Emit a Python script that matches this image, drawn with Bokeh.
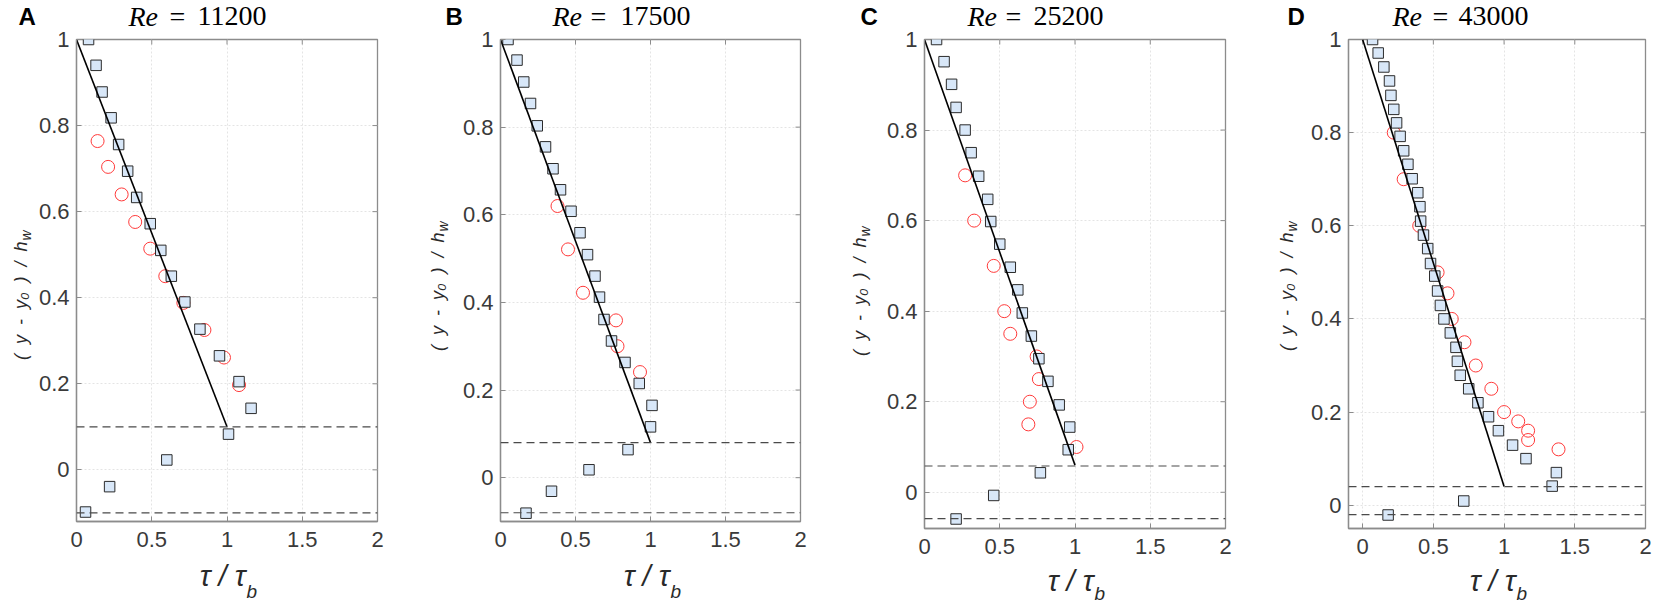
import math
from bokeh.plotting import figure
from bokeh.models import Span, FixedTicker, NumeralTickFormatter, Range1d, GridBox
from bokeh.embed import file_html
from bokeh.resources import INLINE
from bokeh.core.properties import value

# ---------------- data ----------------
panel_letters = ["A", "B", "C", "D"]
re_values = ["11200", "17500", "25200", "43000"]
x_ticks = [0, 0.5, 1, 1.5, 2]
y_ticks = [0, 0.2, 0.4, 0.6, 0.8, 1]
x_label_main = "\u03c4 / \u03c4"
x_label_sub = "b"
_sp = " \u00a0"
y_label_main = "(" + _sp + "y" + _sp + "-" + _sp + "y\u2080" + _sp + ")" + _sp + "/" + _sp + "h"
y_label_sub = "w"

# Panel A (Re = 11200)
a_sq_x = [0.08, 0.13, 0.17, 0.23, 0.28, 0.34, 0.40, 0.49, 0.56, 0.63, 0.72, 0.82, 0.95, 1.08, 1.16, 1.01, 0.60, 0.22, 0.06]
a_sq_y = [1.00, 0.94, 0.878, 0.818, 0.756, 0.694, 0.633, 0.572, 0.51, 0.45, 0.39, 0.327, 0.265, 0.205, 0.143, 0.083, 0.023, -0.039, -0.098]
a_ci_x = [0.14, 0.21, 0.30, 0.39, 0.49, 0.59, 0.71, 0.85, 0.98, 1.08]
a_ci_y = [0.764, 0.704, 0.64, 0.576, 0.514, 0.45, 0.388, 0.325, 0.261, 0.197]
a_fit_x = [0, 1]
a_fit_y = [1, 0.1]
a_dash = [0.1, -0.1]
a_xrange = [0, 2]
a_yrange = [-0.12, 1]

# Panel B (Re = 17500)
b_sq_x = [0.05, 0.11, 0.155, 0.20, 0.245, 0.30, 0.35, 0.40, 0.47, 0.53, 0.58, 0.63, 0.66, 0.69, 0.74, 0.83, 0.925, 1.01, 1.00, 0.85, 0.59, 0.34, 0.17]
b_sq_y = [1.0, 0.953, 0.903, 0.854, 0.803, 0.755, 0.705, 0.657, 0.608, 0.559, 0.509, 0.46, 0.412, 0.361, 0.312, 0.263, 0.215, 0.165, 0.116, 0.064, 0.018, -0.031, -0.081]
b_ci_x = [0.38, 0.45, 0.55, 0.77, 0.78, 0.93]
b_ci_y = [0.62, 0.521, 0.422, 0.359, 0.30, 0.241]
b_fit_x = [0, 1]
b_fit_y = [1, 0.08]
b_dash = [0.08, -0.08]
b_xrange = [0, 2]
b_yrange = [-0.1, 1]

# Panel C (Re = 25200)
c_sq_x = [0.08, 0.13, 0.18, 0.21, 0.27, 0.31, 0.36, 0.42, 0.44, 0.50, 0.57, 0.62, 0.65, 0.71, 0.76, 0.82, 0.895, 0.965, 0.955, 0.77, 0.46, 0.21]
c_sq_y = [1.0, 0.951, 0.901, 0.85, 0.80, 0.75, 0.698, 0.647, 0.598, 0.548, 0.497, 0.447, 0.396, 0.345, 0.295, 0.245, 0.193, 0.144, 0.094, 0.043, -0.007, -0.059]
c_ci_x = [0.27, 0.33, 0.46, 0.53, 0.57, 0.745, 0.76, 0.70, 0.69, 1.01]
c_ci_y = [0.70, 0.60, 0.50, 0.40, 0.35, 0.30, 0.25, 0.20, 0.15, 0.10]
c_fit_x = [0, 1]
c_fit_y = [1, 0.06]
c_dash = [0.058, -0.058]
c_xrange = [0, 2]
c_yrange = [-0.08, 1]

# Panel D (Re = 43000)
d_sq_x = [0.07, 0.11, 0.15, 0.19, 0.20, 0.22, 0.24, 0.265, 0.29, 0.32, 0.35, 0.39, 0.405, 0.41, 0.43, 0.46, 0.48, 0.51, 0.53, 0.55, 0.575, 0.62, 0.66, 0.67, 0.69, 0.75, 0.815, 0.89, 0.96, 1.06, 1.155, 1.37, 1.34, 0.715, 0.18]
d_sq_y = [1.0, 0.971, 0.941, 0.911, 0.88, 0.85, 0.821, 0.792, 0.761, 0.732, 0.701, 0.671, 0.641, 0.61, 0.58, 0.551, 0.519, 0.492, 0.46, 0.429, 0.40, 0.37, 0.339, 0.309, 0.279, 0.25, 0.22, 0.19, 0.16, 0.129, 0.10, 0.07, 0.041, 0.009, -0.021]
d_ci_x = [0.22, 0.29, 0.40, 0.53, 0.60, 0.63, 0.72, 0.80, 0.91, 1.00, 1.10, 1.17, 1.17, 1.385]
d_ci_y = [0.80, 0.70, 0.60, 0.50, 0.455, 0.40, 0.35, 0.30, 0.25, 0.20, 0.18, 0.16, 0.14, 0.12]
d_fit_x = [0, 1]
d_fit_y = [1, 0.04]
d_dash = [0.04, -0.02]
d_xrange = [-0.1, 2]
d_yrange = [-0.05, 1]

# ---------------- layout / style ----------------
FRAME = "#8c8c8c"
TICKTXT = "#3a3a3a"
LABTXT = "#2a2a2a"
SANS = "Liberation Sans"
SERIF = "Liberation Serif"
PAGE_W = 1653
PAGE_H = 604
FRAME_TOP = 39

# all positions in page pixels (x from left, y from top); *_c are text centre lines
layouts = [
    dict(col0=0, colw=420, fl=76, fw=301, fh=482,
         letter=18, re=128, eq=169, num=197,
         ylx_c=20, ylp=241, xlj=245, xl_c=575, xlsub_c=591),
    dict(col0=420, colw=426, fl=500, fw=300, fh=482,
         letter=445, re=552, eq=590, num=620,
         ylx_c=437, ylp=232, xlj=669, xl_c=575, xlsub_c=591),
    dict(col0=846, colw=424, fl=924, fw=301, fh=489,
         letter=860, re=967, eq=1005, num=1033,
         ylx_c=859, ylp=237, xlj=1093, xl_c=580, xlsub_c=593),
    dict(col0=1270, colw=383, fl=1348, fw=297, fh=489,
         letter=1287, re=1392, eq=1432, num=1458,
         ylx_c=1286, ylp=232, xlj=1515, xl_c=580, xlsub_c=593),
]


def no_frame_align(f):
    try:
        f.frame_align = False
    except Exception:
        pass


def style_axis(ax, ticks, standoff):
    ax.ticker = FixedTicker(ticks=ticks)
    ax.formatter = NumeralTickFormatter(format="0.[0]")
    ax.axis_line_color = FRAME
    ax.axis_line_width = 1.3
    ax.major_tick_line_color = FRAME
    ax.major_tick_line_width = 1
    ax.major_tick_in = 5
    ax.major_tick_out = 0
    ax.minor_tick_line_color = None
    ax.major_label_standoff = standoff
    ax.major_label_text_font = SANS
    ax.major_label_text_font_size = "22px"
    ax.major_label_text_color = TICKTXT


def put_text(f, x, y, txt, size, font, style="normal", align="left", angle=0.0, color="black"):
    f.text(x=[x], y=[PAGE_H - y], text=[txt], text_font=value(font), text_font_size=size,
           text_font_style=style, text_align=align, text_baseline="middle",
           angle=angle, text_color=color)


def make_panel(idx, sq_x, sq_y, ci_x, ci_y, fit_x, fit_y, dash, xr, yr):
    L = layouts[idx]
    bl = L["fl"] - L["col0"]
    br = L["colw"] - bl - L["fw"]
    bb = PAGE_H - FRAME_TOP - L["fh"]
    p = figure(width=L["colw"], height=PAGE_H,
               x_range=Range1d(xr[0], xr[1]), y_range=Range1d(yr[0], yr[1]),
               output_backend="svg", toolbar_location=None,
               min_border_left=bl, min_border_right=br,
               min_border_top=FRAME_TOP, min_border_bottom=bb,
               outline_line_color=FRAME, outline_line_width=1.3,
               background_fill_color="white", border_fill_color="white")
    no_frame_align(p)
    style_axis(p.xaxis[0], x_ticks, 10)
    style_axis(p.yaxis[0], y_ticks, 7)

    p.xgrid.ticker = FixedTicker(ticks=x_ticks)
    p.ygrid.ticker = FixedTicker(ticks=y_ticks)
    p.grid.grid_line_color = "#e4e4e4"
    p.grid.grid_line_dash = "2 2"
    p.grid.grid_line_width = 1

    # mirrored inward ticks on top and right edges (outer half clipped by the frame)
    p.scatter(x_ticks, [yr[1]] * len(x_ticks), marker="dash", size=10, angle=math.pi / 2,
              line_color=FRAME, line_width=1)
    p.scatter([xr[1]] * len(y_ticks), y_ticks, marker="dash", size=10,
              line_color=FRAME, line_width=1)

    p.scatter(ci_x, ci_y, marker="circle", size=13, fill_color=None,
              line_color="#ff3a3a", line_width=1)
    p.scatter(sq_x, sq_y, marker="square", size=10.5, fill_color="#d8e7f8",
              line_color="#2b2b2b", line_width=1)
    p.line(fit_x, fit_y, line_color="black", line_width=1.6)
    for lvl in dash:
        p.add_layout(Span(location=lvl, dimension="width", line_color="#4a4a4a",
                          line_dash="8 5", line_width=1.2))
    return p


def add_panel_texts(f, idx):
    L = layouts[idx]
    # panel letter + title
    put_text(f, L["letter"], 16, panel_letters[idx], "24px", SANS, style="bold")
    put_text(f, L["re"], 15.5, "Re", "28px", SERIF, style="italic")
    put_text(f, L["eq"], 15.5, "=", "28px", SERIF)
    put_text(f, L["num"], 15.5, re_values[idx], "28px", SERIF)
    # y label (rotated, reads bottom to top)
    put_text(f, L["ylx_c"], L["ylp"], y_label_main, "18px", SANS, style="italic",
             align="right", angle=math.pi / 2, color=LABTXT)
    put_text(f, L["ylx_c"] + 5, L["ylp"] - 1, y_label_sub, "14px", SANS, style="italic",
             align="left", angle=math.pi / 2, color=LABTXT)
    # x label
    put_text(f, L["xlj"], L["xl_c"], x_label_main, "29px", SANS, style="italic",
             align="right", color=LABTXT)
    put_text(f, L["xlj"] + 1, L["xlsub_c"], x_label_sub, "19px", SANS, style="italic",
             align="left", color=LABTXT)


pa = make_panel(0, a_sq_x, a_sq_y, a_ci_x, a_ci_y, a_fit_x, a_fit_y, a_dash, a_xrange, a_yrange)
pb = make_panel(1, b_sq_x, b_sq_y, b_ci_x, b_ci_y, b_fit_x, b_fit_y, b_dash, b_xrange, b_yrange)
pc = make_panel(2, c_sq_x, c_sq_y, c_ci_x, c_ci_y, c_fit_x, c_fit_y, c_dash, c_xrange, c_yrange)
pd = make_panel(3, d_sq_x, d_sq_y, d_ci_x, d_ci_y, d_fit_x, d_fit_y, d_dash, d_xrange, d_yrange)

# transparent text layer over the whole page (page-pixel coordinates)
overlay = figure(width=PAGE_W, height=PAGE_H, x_range=Range1d(0, PAGE_W),
                 y_range=Range1d(0, PAGE_H), x_axis_type=None, y_axis_type=None,
                 toolbar_location=None, output_backend="svg", min_border=0,
                 outline_line_color=None, background_fill_color=None,
                 border_fill_color=None)
no_frame_align(overlay)
for i in range(4):
    add_panel_texts(overlay, i)

layout = GridBox(children=[(pa, 0, 0), (pb, 0, 1), (pc, 0, 2), (pd, 0, 3),
                           (overlay, 0, 0, 1, 4)], spacing=0)
open("out.html", "w").write(file_html(layout, INLINE))
